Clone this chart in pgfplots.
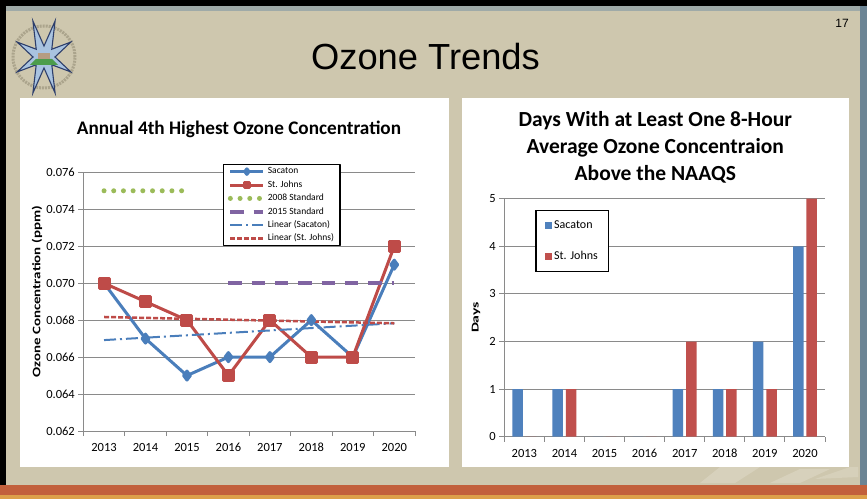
\documentclass[border=0pt]{standalone}
\usepackage{pgfplots}
\pgfplotsset{compat=1.18}
\usepackage{fontspec}
\setmainfont{Carlito}
\newfontfamily\arialfont{Liberation Sans}
\definecolor{slidebg}{HTML}{CEC7AE}
\definecolor{sideblue}{HTML}{6B8494}
\definecolor{topband}{HTML}{9FAAA8}
\definecolor{bandred}{HTML}{C2603C}
\definecolor{bandgold}{HTML}{DDA04A}
\definecolor{sacblue}{HTML}{4A7EBB}
\definecolor{stjred}{HTML}{BE4B48}
\definecolor{stdgreen}{HTML}{9BBB59}
\definecolor{stdpurple}{HTML}{8064A2}
\definecolor{gridgray}{HTML}{8A8A8A}
\definecolor{barblue}{HTML}{4F81BD}
\definecolor{barred}{HTML}{C0504D}
\definecolor{starblue}{HTML}{A9C3E0}
\definecolor{starnavy}{HTML}{2D3E6B}
\definecolor{ringgray}{HTML}{ABA48C}
\definecolor{streak}{HTML}{DCD6C2}

\pgfplotsset{
  slidechart/.style={
    scale only axis,
    xmin=-0.5, xmax=7.5,
    xtick={0,1,2,3,4,5,6,7},
    xticklabels={2013,2014,2015,2016,2017,2018,2019,2020},
    minor xtick={-0.5,0.5,1.5,2.5,3.5,4.5,5.5,6.5,7.5},
    major x tick style={draw=none},
    minor tick length=5pt,
    major tick length=5pt,
    tick align=outside,
    axis x line*=bottom, axis y line*=left,
    axis line style={gridgray, line width=0.9pt},
    ymajorgrids,
    major grid style={gridgray, line width=0.9pt},
    tick style={gridgray, line width=0.9pt},
    /pgf/number format/assume math mode=true,
    tick label style={font=\fontsize{12.5}{14}\selectfont, text height=9pt, text depth=1pt},
    xticklabel style={yshift=-3pt},
  }
}

\begin{document}
\begin{tikzpicture}
\useasboundingbox (0pt,0pt) rectangle (867pt,499pt);
\begin{scope}[x=1pt,y=1pt]
% ---- slide background ----
\fill[black] (0,0) rectangle (867,499);
\fill[slidebg] (6,14) rectangle (860,493);
\fill[topband] (6,488) rectangle (860,493);
\fill[sideblue] (860,14) rectangle (867,493);
\fill[bandred] (0,4) rectangle (867,14);
\fill[bandgold] (0,0) rectangle (867,4);
% faint decorative streaks bottom right
\fill[streak,opacity=0.7] (700,16) -- (720,32) -- (760,32) -- (735,16) -- cycle;
\fill[streak,opacity=0.7] (770,16) -- (800,30) -- (830,30) -- (800,16) -- cycle;
\fill[streak,opacity=0.6] (815,20) -- (850,32) -- (858,32) -- (858,22) -- cycle;
% ---- logo ----
\begin{scope}[shift={(44,442)}]
  \draw[ringgray, line width=3pt, dash pattern=on 2pt off 1pt] (0,0) circle (31);
  \path[fill=starblue, draw=starnavy, line width=1.1pt]
    (22.5:29 and 39) -- (45:11) -- (67.5:29 and 39) -- (90:11) --
    (112.5:29 and 39) -- (135:11) -- (157.5:29 and 39) -- (180:11) --
    (202.5:29 and 39) -- (225:11) -- (247.5:29 and 39) -- (270:11) --
    (292.5:29 and 39) -- (315:11) -- (337.5:29 and 39) -- (0:11) -- cycle;
  \fill[green!45!black!70!white] (-14,-8) -- (14,-8) -- (8,-2) -- (-8,-2) -- cycle;
  \fill[brown!70!black!60!white] (-6,-2) rectangle (6,4);
\end{scope}
% ---- title & page number ----
\node[anchor=base, inner sep=0pt] at (425.5,429.7) {\fontsize{36.3}{40}\arialfont Ozone Trends};
\node[anchor=base, inner sep=0pt] at (842,471) {\fontsize{12}{14}\arialfont 17};
% ---- panels ----
\fill[white] (20,32.3) rectangle (449,401.3);
\fill[white] (462,32.3) rectangle (848.5,401.3);
% ---- chart titles ----
\node[anchor=base, inner sep=0pt] at (239,364.7) {\fontsize{19.2}{23}\selectfont\bfseries Annual 4th Highest Ozone Concentration};
\node[anchor=base, inner sep=0pt] at (655.3,372.3) {\fontsize{21.5}{26}\selectfont\bfseries Days With at Least One 8-Hour};
\node[anchor=base, inner sep=0pt] at (655.3,345.6) {\fontsize{21.5}{26}\selectfont\bfseries Average Ozone Concentraion};
\node[anchor=base, inner sep=0pt] at (655.3,319) {\fontsize{21.5}{26}\selectfont\bfseries Above the NAAQS};
\end{scope}

% ---- left chart ----
\begin{axis}[slidechart,
  at={(83.3pt,68pt)}, anchor=south west,
  width=331.7pt, height=258.7pt,
  ymin=0.062, ymax=0.076,
  ytick={0.062,0.064,0.066,0.068,0.070,0.072,0.074,0.076},
  scaled y ticks=false,
  yticklabel style={/pgf/number format/.cd, fixed, fixed zerofill, precision=3},
  ylabel={\scalebox{1.3}[1]{Ozone Concentration (ppm)}},
  every axis y label/.style={at={(axis description cs:-0.1396,0.538)}, rotate=90, anchor=center, font=\fontsize{11.5}{13}\selectfont\bfseries},
  line join=round,
  legend image code/.code={\draw[mark repeat=2,mark phase=2,mark size=2.8pt] plot coordinates {(0pt,0pt) (16.5pt,0pt) (33pt,0pt)};},
  legend style={at={(0.422,1.031)}, anchor=north west, draw=black, line width=1.2pt, fill=white,
    font=\fontsize{9.5}{11}\selectfont, row sep=3.9pt, inner xsep=4pt, inner ysep=2pt,
    nodes={text height=6.5pt, text depth=2pt, inner ysep=0.5pt}},
  legend cell align=left,
]
\addplot[sacblue, line width=3pt, mark=diamond*, mark size=4.5pt, mark options={solid}]
  coordinates {(0,0.070) (1,0.067) (2,0.065) (3,0.066) (4,0.066) (5,0.068) (6,0.066) (7,0.071)};
\addlegendentry{Sacaton}
\addplot[stjred, line width=3pt, mark=square*, mark size=5pt, mark options={solid}]
  coordinates {(0,0.070) (1,0.069) (2,0.068) (3,0.065) (4,0.068) (5,0.066) (6,0.066) (7,0.072)};
\addlegendentry{St. Johns}
\addplot[stdgreen, line width=5pt, line cap=round, dash pattern=on 0pt off 9.7pt]
  coordinates {(0,0.075) (2,0.075)};
\addlegendentry{2008 Standard}
\addplot[stdpurple, line width=4pt, dash pattern=on 13.3pt off 10pt]
  coordinates {(3,0.070) (7,0.070)};
\addlegendentry{2015 Standard}
\addplot[sacblue, line width=2pt, dash pattern=on 12pt off 4pt on 2pt off 4pt]
  coordinates {(0,0.06692) (7,0.06783)};
\addlegendentry{Linear (Sacaton)}
\addplot[stjred, line width=2.5pt, dash pattern=on 5pt off 2pt]
  coordinates {(0,0.06817) (7,0.06783)};
\addlegendentry{Linear (St. Johns)}
\end{axis}

% ---- right chart ----
\begin{axis}[slidechart,
  at={(504.3pt,62.3pt)}, anchor=south west,
  width=320.7pt, height=238pt,
  ymin=0, ymax=5,
  ytick={0,1,2,3,4,5},
  ylabel={\scalebox{1.5}[1]{Days}},
  every axis y label/.style={at={(axis description cs:-0.0882,0.501)}, rotate=90, anchor=center, font=\fontsize{10.5}{12}\selectfont\bfseries},
  ybar, bar width=10.5pt,
  legend style={at={(0.0967,0.9525)}, anchor=north west, draw=black, line width=1.2pt, fill=white,
    font=\fontsize{12}{14}\selectfont, row sep=20pt, inner xsep=9pt, inner ysep=9pt,
    nodes={text height=8.5pt, text depth=3pt, inner ysep=0pt}},
  legend cell align=left,
]
\addplot[fill=barblue, draw=none, bar shift=-6.7pt,
  legend image code/.code={\fill[barblue] (0pt,-3.6pt) rectangle (7.3pt,3.6pt);}]
  coordinates {(0,1) (1,1) (2,0) (3,0) (4,1) (5,1) (6,2) (7,4)};
\addlegendentry{Sacaton}
\addplot[fill=barred, draw=none, bar shift=6.7pt,
  legend image code/.code={\fill[barred] (0pt,-3.6pt) rectangle (7.3pt,3.6pt);}]
  coordinates {(0,0) (1,1) (2,0) (3,0) (4,2) (5,1) (6,1) (7,5)};
\addlegendentry{St. Johns}
\end{axis}
\end{tikzpicture}
\end{document}
